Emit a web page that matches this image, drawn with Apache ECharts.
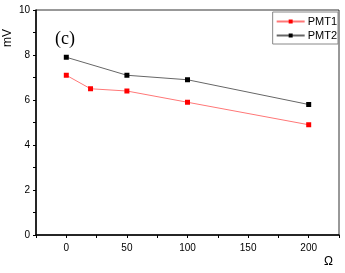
<!DOCTYPE html>
<html><head><meta charset="utf-8">
<script src="https://cdn.jsdelivr.net/npm/echarts@6/dist/echarts.min.js"></script>
<style>html,body{margin:0;padding:0;background:#fff}#c{width:345px;height:273px}</style>
</head><body><div id="c"></div>
<script>
const pmt1X = [0, 20, 50, 100, 200];
const pmt1Y = [7.1, 6.5, 6.4, 5.9, 4.9];
const pmt2X = [0, 50, 100, 200];
const pmt2Y = [7.9, 7.1, 6.9, 5.8];
const seriesNames = ['PMT1', 'PMT2'];
const xLabels = [0, 50, 100, 150, 200];
const yLabels = [0, 2, 4, 6, 8, 10];

const chart = echarts.init(document.getElementById('c'));
const font = 'Liberation Sans, Arial, sans-serif';
chart.setOption({
  animation: false,
  grid: {left: 36, right: 6, top: 10, bottom: 38, show: true, borderColor: '#333', borderWidth: 1},
  legend: {
    right: 7, top: 12, orient: 'vertical', itemGap: 3, itemWidth: 28, itemHeight: 5,
    backgroundColor: '#fff', borderColor: '#888', borderWidth: 1, padding: [4, 1, 3, 3],
    textStyle: {fontFamily: font, fontSize: 11, color: '#000', padding: [0, 0, 0, -2]},
    data: seriesNames
  },
  xAxis: {
    type: 'value', min: -25, max: 225, interval: 25,
    axisLine: {show: true, onZero: false, lineStyle: {color: '#000', width: 1.5}},
    axisTick: {show: true, inside: false, length: 3, lineStyle: {color: '#000'}},
    axisLabel: {fontFamily: font, fontSize: 10, color: '#000', margin: 8,
      formatter: v => xLabels.includes(v) ? String(v) : ''},
    splitLine: {show: false}
  },
  yAxis: {
    type: 'value', min: 0, max: 10, interval: 1,
    axisLine: {show: true, onZero: false, lineStyle: {color: '#000', width: 1.5}},
    axisTick: {show: true, inside: false, length: 3, lineStyle: {color: '#000'}},
    axisLabel: {fontFamily: font, fontSize: 10, color: '#000', margin: 6,
      formatter: v => yLabels.includes(v) ? String(v) : ''},
    splitLine: {show: false}
  },
  graphic: [{
    type: 'text', left: 55, top: 30,
    style: {text: '(c)', font: '18px "Liberation Serif", "Times New Roman", serif', fill: '#000'}
  }, {
    type: 'text', x: 2, y: 47, rotation: Math.PI / 2,
    style: {text: 'mV', font: '12px "Liberation Sans", Arial, sans-serif', fill: '#000'}
  }, {
    type: 'text', left: 324, top: 256,
    style: {text: 'Ω', font: '12px "Liberation Sans", Arial, sans-serif', fill: '#000'}
  }],
  series: [{
    name: seriesNames[0], type: 'line',
    data: pmt1X.map((x, i) => [x, pmt1Y[i]]),
    symbol: 'rect', symbolSize: 5,
    itemStyle: {color: '#ff0000'},
    lineStyle: {color: '#ff7777', width: 1}
  }, {
    name: seriesNames[1], type: 'line',
    data: pmt2X.map((x, i) => [x, pmt2Y[i]]),
    symbol: 'rect', symbolSize: 5,
    itemStyle: {color: '#000'},
    lineStyle: {color: '#666', width: 1}
  }]
});
</script></body></html>
